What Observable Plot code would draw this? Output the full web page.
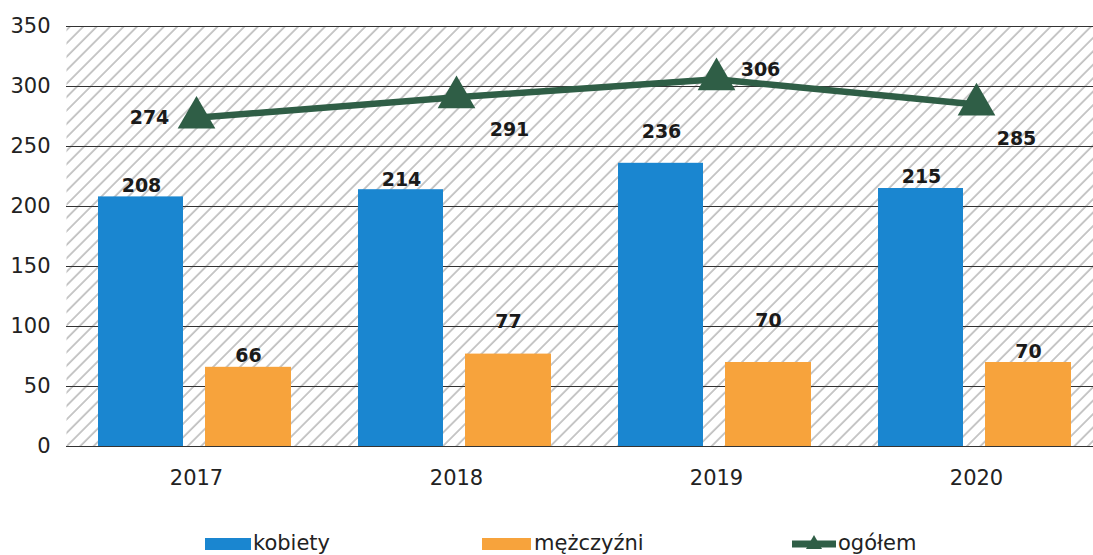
<!DOCTYPE html>
<html><head><meta charset="utf-8">
<script src="https://cdn.jsdelivr.net/npm/d3@7"></script>
<script src="https://cdn.jsdelivr.net/npm/@observablehq/plot@0.6"></script>
<style>
body{margin:0;background:#fff;font-family:"DejaVu Sans",sans-serif;position:relative;width:1093px;height:555px;overflow:hidden}
#chart{position:absolute;left:0;top:0}
.leg{position:absolute;top:536px;font-size:21px;color:#222;line-height:22px;white-space:nowrap}
.sw{display:inline-block;position:absolute}
</style></head>
<body>
<svg width="0" height="0" style="position:absolute">
<defs>
<pattern id="hatch" patternUnits="userSpaceOnUse" width="9.5" height="9.5" patternTransform="rotate(45)">
<rect width="9.5" height="9.5" fill="#ffffff"/>
<line x1="1" y1="0" x2="1" y2="9.5" stroke="#b6b6b6" stroke-width="1.5"/>
</pattern>
</defs>
</svg>
<div id="chart"></div>
<div class="leg" style="left:205px"><span class="sw" style="left:0;top:2px;width:46px;height:12px;background:#1a86d0"></span><span style="position:absolute;left:48px;top:-4px">kobiety</span></div>
<div class="leg" style="left:482px"><span class="sw" style="left:0;top:2px;width:49px;height:12px;background:#f7a33c"></span><span style="position:absolute;left:52px;top:-4px">mężczyźni</span></div>
<div class="leg" style="left:790px">
<svg width="50" height="22" style="position:absolute;left:0;top:-4px"><line x1="2" y1="12" x2="46" y2="12" stroke="#2f5e46" stroke-width="7"/><path d="M24,3 L32,17 L16,17 Z" fill="#2f5e46"/></svg>
<span style="position:absolute;left:48px;top:-4px">ogółem</span></div>
<script>
const years = ["2017", "2018", "2019", "2020"];
const kobiety = [208, 214, 236, 215];
const mezczyzni = [66, 77, 70, 70];
const ogolem = [274, 291, 306, 285];
const yTicks = [0, 50, 100, 150, 200, 250, 300, 350];

const blue = "#1a86d0", orange = "#f7a33c", green = "#2f5e46";
const kData = years.map((y, i) => ({year: y, value: kobiety[i]}));
const mData = years.map((y, i) => ({year: y, value: mezczyzni[i]}));
const oData = years.map((y, i) => ({year: y, value: ogolem[i]}));
// label offsets (dx, dy) as placed in the original
const oOff = [[-47, 0], [53, 33], [44, -9], [40, 34]];
const kOff = [[-55, -11], [-55, -10], [-55, -31], [-55, -12]];
const mOff = [[52, -11], [52, -32], [52, -42], [52, -11]];

const fnt = "DejaVu Sans, sans-serif";
const lbl = (data, off) => data.map((d, i) => Plot.text([d], {x: "year", y: "value", text: d => String(d.value), dx: off[i][0], dy: off[i][1], fontWeight: "bold", fontSize: 19, fill: "#1a1a1a"}));
const plot = Plot.plot({
  width: 1093,
  height: 530,
  marginTop: 26,
  marginBottom: 84,
  marginLeft: 66,
  marginRight: 0,
  style: {fontFamily: fnt, fontSize: "21px", color: "#222", background: "transparent", overflow: "visible"},
  x: {type: "band", domain: years, range: [66, 1106], padding: 0, label: null, tickSize: 0, tickPadding: 24},
  y: {domain: [0, 350], ticks: yTicks, label: null, tickSize: 0, tickPadding: 16},
  marks: [
    Plot.frame({fill: "url(#hatch)", stroke: null}),
    Plot.ruleY(yTicks, {stroke: "#333", strokeWidth: 1.2}),
    Plot.ruleX([0], {x: () => null, frameAnchor: "left", stroke: "#333", strokeWidth: 1.5}),
    Plot.barY(kData, {x: "year", y: "value", fill: blue, insetLeft: 32, insetRight: 143}),
    Plot.barY(mData, {x: "year", y: "value", fill: orange, insetLeft: 139, insetRight: 35}),
    ...lbl(kData, kOff),
    ...lbl(mData, mOff),
    Plot.lineY(oData, {x: "year", y: "value", stroke: green, strokeWidth: 6.5}),
    Plot.dot(oData, {x: "year", y: "value", symbol: "triangle", r: 14, fill: green, stroke: null}),
    ...lbl(oData, oOff)
  ]
});
document.getElementById("chart").appendChild(plot);
</script>
</body></html>
